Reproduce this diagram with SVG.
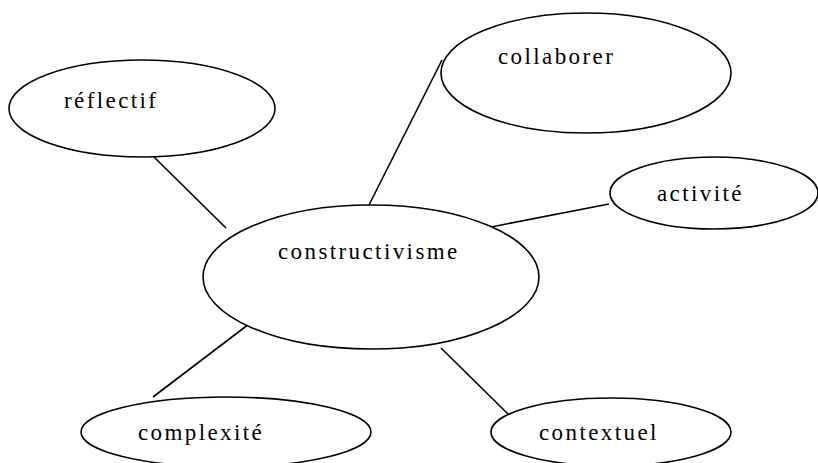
<svg xmlns="http://www.w3.org/2000/svg" width="818" height="463" viewBox="0 0 818 463">
<style>
.n ellipse{fill:#fff;stroke:#000;stroke-width:1.6}
.n text{font-family:"Liberation Serif","Times New Roman",serif;font-size:23px;letter-spacing:2.4px;fill:#000}
.c line{stroke:#000;stroke-width:1.6}
</style>
<rect width="818" height="463" fill="#fff"/>
<g id="connectors" class="c">
<line x1="154" y1="157" x2="226" y2="228"/>
<line x1="369" y1="205" x2="442" y2="60"/>
<line x1="491" y1="227" x2="609" y2="204"/>
<line x1="249" y1="324" x2="153" y2="397"/>
<line x1="441" y1="348" x2="508" y2="414"/>
</g>
<g id="reflectif" class="n">
<ellipse cx="142" cy="108.5" rx="133" ry="48.5"/>
<text x="64" y="108">réflectif</text>
</g>
<g id="collaborer" class="n">
<ellipse cx="586" cy="73" rx="145" ry="60"/>
<text x="498" y="64">collaborer</text>
</g>
<g id="activite" class="n">
<ellipse cx="714" cy="193" rx="104" ry="36"/>
<text x="657" y="201">activité</text>
</g>
<g id="constructivisme" class="n">
<ellipse cx="371" cy="277" rx="168" ry="72"/>
<text x="278" y="259">constructivisme</text>
</g>
<g id="complexite" class="n">
<ellipse cx="226" cy="432" rx="145" ry="35"/>
<text x="138" y="440">complexité</text>
</g>
<g id="contextuel" class="n">
<ellipse cx="611" cy="432" rx="120" ry="34"/>
<text x="539" y="440">contextuel</text>
</g>
</svg>
